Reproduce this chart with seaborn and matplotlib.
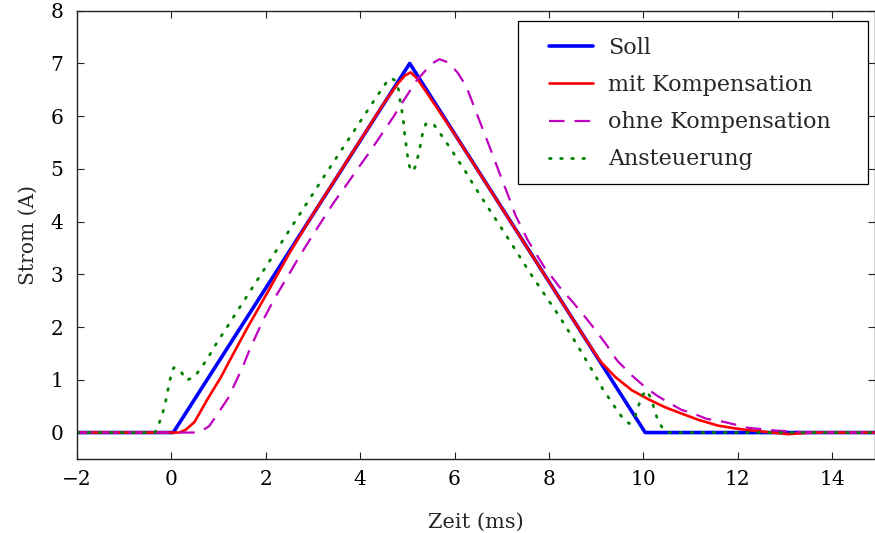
import matplotlib
matplotlib.use("Agg")
import matplotlib.pyplot as plt
from matplotlib.patches import Rectangle
import seaborn as sns

# =========================
# DATA
# =========================
soll_t = [-2, 0.04, 5.05, 10.04, 14.9]
soll_i = [0, 0, 7.0, 0, 0]

mit_t = [-2, 0.17, 0.3, 0.49, 0.77, 1.05, 1.22, 1.6, 2.0, 2.5, 3.0, 3.5, 4.0,
         4.5, 4.8, 4.95, 5.07, 5.2, 5.4, 5.7, 6.0, 6.5, 7.0, 7.5, 8.0, 8.5,
         8.8, 9.1, 9.41, 9.76, 10.11, 10.46, 10.81, 11.17, 11.59, 12.01, 12.5,
         13.07, 13.6, 14.9]
mit_i = [0, 0, 0.05, 0.2, 0.64, 1.05, 1.34, 1.97, 2.6, 3.4, 4.14, 4.84, 5.54,
         6.24, 6.62, 6.77, 6.83, 6.72, 6.46, 6.06, 5.66, 4.96, 4.26, 3.56, 2.86,
         2.16, 1.74, 1.34, 1.05, 0.8, 0.63, 0.48, 0.36, 0.24, 0.13, 0.07, 0.02,
         -0.03, 0.0, 0]

ohne_t = [-2, 0.5, 0.6, 0.8, 1.0, 1.2, 1.5, 1.68, 1.96, 2.19, 2.49, 2.74, 3.0,
          3.23, 3.44, 3.72, 3.97, 4.21, 4.42, 4.7, 4.91, 5.2, 5.51, 5.68, 5.86,
          6.07, 6.25, 6.5, 6.78, 7.02, 7.16, 7.29, 7.43, 7.55, 7.72, 7.9, 8.25,
          8.5, 8.74, 8.99, 9.23, 9.44, 9.76, 10.04, 10.29, 10.55, 10.81, 11.06,
          11.34, 11.72, 12.22, 12.78, 13.5, 14.9]
ohne_i = [0, 0, 0.01, 0.12, 0.38, 0.65, 1.22, 1.62, 2.16, 2.55, 3.0, 3.38, 3.75,
          4.07, 4.36, 4.71, 5.03, 5.33, 5.61, 5.98, 6.28, 6.68, 6.99, 7.08, 7.02,
          6.82, 6.56, 5.98, 5.33, 4.76, 4.44, 4.12, 3.87, 3.65, 3.4, 3.14, 2.73,
          2.48, 2.22, 1.94, 1.65, 1.37, 1.08, 0.86, 0.7, 0.56, 0.43, 0.36,
          0.26, 0.2, 0.09, 0.04, 0.0, 0]

anst_t = [-2, -0.35, -0.28, -0.2, -0.14, -0.09, -0.05, 0.0, 0.05, 0.12, 0.2,
          0.32, 0.49, 0.55, 0.68, 0.81, 0.92, 3.18, 4.32, 4.45, 4.58, 4.66,
          4.75, 4.82, 4.85, 4.89, 4.92, 4.94, 4.97, 5.0, 5.04, 5.08, 5.13, 5.18,
          5.23, 5.28, 5.32, 5.39, 5.47, 5.57, 5.72, 5.85, 5.97, 6.09, 6.22, 6.33,
          6.57, 7.1, 7.59, 8.23, 8.6, 9.06, 9.16, 9.3, 9.42, 9.55, 9.7, 9.83,
          9.9, 9.97, 10.08, 10.18, 10.24, 10.31, 10.43, 10.5, 14.9]
anst_i = [0, 0, 0.13, 0.32, 0.52, 0.72, 0.92, 1.11, 1.23, 1.22, 1.16,
          0.99, 1.06, 1.13, 1.29, 1.47, 1.64, 4.78, 6.33, 6.5, 6.67, 6.72,
          6.67, 6.48, 6.27, 6.07, 5.88, 5.68, 5.48, 5.27, 5.07, 4.95, 4.98, 5.06,
          5.26, 5.46, 5.66, 5.85, 5.88, 5.83, 5.64, 5.47, 5.31, 5.14, 4.97, 4.8,
          4.46, 3.73, 3.04, 2.19, 1.66, 0.96, 0.79, 0.62, 0.45, 0.29, 0.17, 0.32,
          0.51, 0.7, 0.8, 0.61, 0.42, 0.23, 0.05, 0, 0]

x_ticks = [-2, 0, 2, 4, 6, 8, 10, 12, 14]
y_ticks = [0, 1, 2, 3, 4, 5, 6, 7, 8]

# =========================
# STYLE
# =========================
sns.set_style("ticks")
plt.rcParams["font.family"] = ["DejaVu Serif"]
plt.rcParams["font.size"] = 14

fig = plt.figure(figsize=(8.75, 5.33), dpi=100)
ax = fig.add_axes([0.088, 0.139, 0.9115, 0.841])

sns.lineplot(x=soll_t, y=soll_i, ax=ax, color="#0000ff", lw=2.6,
             label="Soll", estimator=None, sort=False)
sns.lineplot(x=mit_t, y=mit_i, ax=ax, color="#ff0000", lw=1.9,
             label="mit Kompensation", estimator=None, sort=False)
sns.lineplot(x=ohne_t, y=ohne_i, ax=ax, color="#c000c0", lw=1.6,
             linestyle=(0, (7, 4.5)), label="ohne Kompensation",
             estimator=None, sort=False)
sns.lineplot(x=anst_t, y=anst_i, ax=ax, color="#008000", lw=2.0,
             linestyle=(0, (0.6, 3.4)), dash_capstyle="round",
             label="Ansteuerung", estimator=None, sort=False)

ax.set_xlim(-2, 14.9)
ax.set_ylim(-0.5, 8)
ax.set_xticks(x_ticks)
ax.set_yticks(y_ticks)
ax.tick_params(direction="in", length=5, width=0.8, top=True, right=True,
               labelsize=14.5, colors="#222222", labelcolor="black")
ax.tick_params(axis="x", pad=8)
ax.tick_params(axis="y", pad=10)
for s in ax.spines.values():
    s.set_visible(True)
    s.set_linewidth(1.0)
    s.set_color("#222222")

ax.set_xlabel("Zeit (ms)", fontsize=15, labelpad=17)
ax.set_ylabel("Strom (A)", fontsize=14.5, labelpad=9)

# legend frame drawn by hand (pgfplots style: wider side padding)
box = Rectangle((0.5526, 0.6138), 0.4386, 0.3639, transform=ax.transAxes,
                facecolor="white", edgecolor="black", lw=0.9, zorder=4)
ax.add_patch(box)
leg = ax.legend(loc="upper left", bbox_to_anchor=(0.5915, 0.941),
                frameon=False, fontsize=16, handlelength=2.0,
                handletextpad=0.65, labelspacing=0.68, borderpad=0,
                borderaxespad=0)
leg.set_zorder(5)

fig.savefig("out.png", dpi=100)
